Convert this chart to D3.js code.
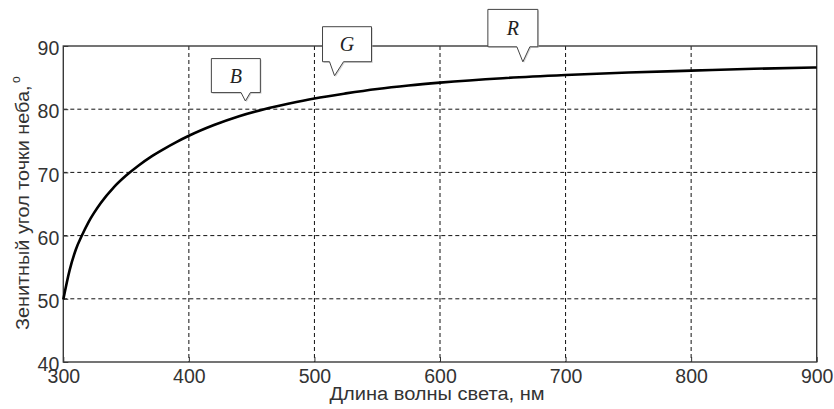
<!DOCTYPE html>
<html>
<head>
<meta charset="utf-8">
<script src="https://cdn.jsdelivr.net/npm/d3@7"></script>
<style>
  html, body { margin: 0; padding: 0; background: #fff; }
  svg { display: block; }
</style>
</head>
<body>
<svg id="chart" width="834" height="409"></svg>
<script>
// Wavelength of light (nm) and zenith angle of the sky point (degrees)
const wavelengths = [300, 305, 310, 315, 320, 330, 340, 350, 360, 370, 380, 390, 400,
                     420, 440, 460, 480, 500, 525, 550, 575, 600, 650, 700, 750, 800, 850, 900];
const zenithAngles = [49.9, 54.5, 57.8, 60.1, 62.1, 65.2, 67.6, 69.5, 71.1, 72.5, 73.7, 74.8, 75.8,
                      77.5, 78.9, 80.0, 80.9, 81.7, 82.5, 83.2, 83.75, 84.2, 84.9, 85.4, 85.8, 86.1, 86.4, 86.6];

const xTicks = [300, 400, 500, 600, 700, 800, 900];
const yTicks = [40, 50, 60, 70, 80, 90];

// Colour band callouts: label, wavelength and angle at the pointer tip
const calloutLabels = ["B", "G", "R"];
const calloutWavelengths = [445, 516, 666];
const calloutAngles = [81.3, 85.3, 87.5];

const xLabel = "Длина волны света, нм";
const yLabel = "Зенитный угол точки неба, ";

const svg = d3.select("#chart");
const plotL = 63.3, plotR = 816.7, plotT = 46, plotB = 362;

const x = d3.scaleLinear().domain([300, 900]).range([plotL, plotR]);
const y = d3.scaleLinear().domain([40, 90]).range([plotB, plotT]);

// dashed grid
const grid = svg.append("g");
grid.selectAll("line.vx").data(xTicks.slice(1, -1)).enter().append("line")
  .attr("x1", d => x(d)).attr("x2", d => x(d)).attr("y1", plotT).attr("y2", plotB)
  .attr("stroke", "#111").attr("stroke-width", 1).attr("stroke-dasharray", "4,3");
grid.selectAll("line.hy").data(yTicks.slice(1, -1)).enter().append("line")
  .attr("y1", d => y(d)).attr("y2", d => y(d)).attr("x1", plotL).attr("x2", plotR)
  .attr("stroke", "#111").attr("stroke-width", 1).attr("stroke-dasharray", "4,3");

// axes with inward ticks
const axisFont = "'Liberation Sans', Arial, sans-serif";
const xAxis = svg.append("g").attr("transform", `translate(0,${plotB})`)
  .call(d3.axisBottom(x).tickValues(xTicks).tickSizeInner(-5).tickSizeOuter(0).tickPadding(9));
const yAxis = svg.append("g").attr("transform", `translate(${plotL},0)`)
  .call(d3.axisLeft(y).tickValues(yTicks).tickSizeInner(-5).tickSizeOuter(0).tickPadding(4));
[xAxis, yAxis].forEach(g => {
  g.select(".domain").remove();
  g.selectAll(".tick line").attr("stroke", "#333").attr("stroke-width", 1);
  g.selectAll(".tick text").attr("fill", "#333").attr("font-family", axisFont).attr("font-size", 19.5);
});
yAxis.selectAll(".tick text").attr("dy", "0.45em");
xAxis.selectAll(".tick text").attr("dy", "0.6em");

// plot frame
svg.append("rect").attr("x", plotL).attr("y", plotT)
  .attr("width", plotR - plotL).attr("height", plotB - plotT)
  .attr("fill", "none").attr("stroke", "#3a3a3a").attr("stroke-width", 1.4);

// curve
const line = d3.line().x(d => x(d[0])).y(d => y(d[1])).curve(d3.curveMonotoneX);
svg.append("path").datum(wavelengths.map((w, i) => [w, zenithAngles[i]]))
  .attr("d", line).attr("fill", "none").attr("stroke", "#000").attr("stroke-width", 2.6)
  .attr("stroke-linejoin", "round");

// axis titles
svg.append("text").attr("x", 437).attr("y", 400).attr("text-anchor", "middle")
  .attr("font-family", axisFont).attr("font-size", 18).attr("fill", "#333")
  .attr("textLength", 215).attr("lengthAdjust", "spacingAndGlyphs")
  .text(xLabel);
const yt = svg.append("text").attr("transform", "translate(29,330) rotate(-90)")
  .attr("font-family", axisFont).attr("font-size", 18).attr("fill", "#333");
yt.append("tspan").attr("textLength", 250).attr("lengthAdjust", "spacingAndGlyphs").text(yLabel);
yt.append("tspan").attr("font-size", 12).attr("dy", -9).attr("dx", -3).text("o");

// callouts: box offsets relative to the pointer tip (px)
const calloutBox = [
  { l: -34, w: 49, t: -42.4, h: 34, g0: -4.3, g1: 5 },
  { l: -12, w: 49, t: -49, h: 35, g0: -5, g1: 9 },
  { l: -35, w: 50, t: -52.4, h: 37.4, g0: -6, g1: 7 }
];
calloutLabels.forEach((lab, i) => {
  const tx = x(calloutWavelengths[i]), ty = y(calloutAngles[i]);
  const b = calloutBox[i];
  const x0 = tx + b.l, x1 = x0 + b.w, y0 = ty + b.t, y1 = y0 + b.h;
  const pts = [[x0, y0], [x1, y0], [x1, y1], [tx + b.g1, y1], [tx, ty], [tx + b.g0, y1], [x0, y1]];
  const g = svg.append("g");
  g.append("polygon").attr("points", pts.map(p => [p[0] + 1.2, p[1] + 1.2].join(",")).join(" "))
    .attr("fill", "#bbb").attr("opacity", 0.6);
  g.append("polygon").attr("points", pts.map(p => p.join(",")).join(" "))
    .attr("fill", "#fff").attr("stroke", "#444").attr("stroke-width", 1);
  g.append("text").attr("x", (x0 + x1) / 2).attr("y", (y0 + y1) / 2 + 7)
    .attr("text-anchor", "middle").attr("font-family", "'Liberation Serif', 'Times New Roman', serif")
    .attr("font-style", "italic").attr("font-size", 20).attr("fill", "#222").text(lab);
});
</script>
</body>
</html>
